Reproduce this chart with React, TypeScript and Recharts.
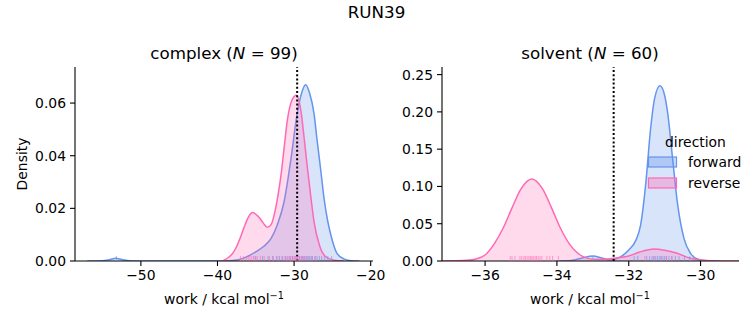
import React from 'react';
import { ComposedChart, Area, Scatter, XAxis, YAxis, ReferenceLine } from 'recharts';

const FONT = "'DejaVu Sans', sans-serif";
const BLUE = '#6495ed';
const PINK = '#ff69b4';

// complex leg: KDE (work, density)
const complexFwdWork = [-57, -55, -54, -53.3, -52.5, -51.5, -50, -40, -38, -36.5, -35, -34, -33, -32.2, -31.3, -30.4, -29.6, -29, -28.5, -28, -27.4, -27, -26.5, -26.1, -25.6, -25.2, -24.4, -23.5, -22.5, -21.5];
const complexFwdDensity = [0, 0.0001, 0.0006, 0.001, 0.0006, 0.0001, 0, 0, 0.0002, 0.0012, 0.0035, 0.0055, 0.0086, 0.0137, 0.0226, 0.039, 0.056, 0.064, 0.067, 0.064, 0.056, 0.046, 0.034, 0.024, 0.015, 0.0099, 0.0029, 0.0008, 0.0001, 0];
const complexRevWork = [-39.5, -39, -38.5, -38, -37.5, -37, -36.5, -36, -35.4, -34.9, -34.5, -34, -33.5, -33, -32.6, -32.1, -31.7, -31.3, -30.9, -30.3, -29.7, -29.1, -28.7, -28.26, -27.8, -27.4, -26.7, -25.9, -24.8, -23.5];
const complexRevDensity = [0, 0.0005, 0.0015, 0.003, 0.0055, 0.009, 0.013, 0.0165, 0.0184, 0.0175, 0.0163, 0.0143, 0.0128, 0.0138, 0.0175, 0.025, 0.0328, 0.043, 0.0531, 0.061, 0.063, 0.0569, 0.047, 0.0353, 0.024, 0.015, 0.0061, 0.0017, 0.0003, 0];

// solvent leg
const solventFwdWork = [-34, -33.6, -33.3, -33.0, -32.75, -32.55, -32.4, -32.22, -32.0, -31.8, -31.67, -31.53, -31.39, -31.28, -31.13, -31.0, -30.92, -30.78, -30.65, -30.46, -30.28, -30.09, -29.8, -29.5];
const solventFwdDensity = [0, 0.0008, 0.004, 0.0067, 0.004, 0.0015, 0.0022, 0.0058, 0.0147, 0.028, 0.048, 0.102, 0.178, 0.218, 0.235, 0.222, 0.2, 0.138, 0.08, 0.03, 0.0103, 0.0027, 0.0003, 0];
const solventRevWork = [-37.2, -36.5, -36.25, -36.0, -35.75, -35.5, -35.25, -35.0, -34.7, -34.4, -34.15, -33.9, -33.65, -33.4, -33.15, -32.9, -32.6, -32.41, -32.2, -32.0, -31.7, -31.3, -31.0, -30.65, -30.28, -30.0, -29.7, -29.3, -28.9];
const solventRevDensity = [0.0001, 0.001, 0.0028, 0.008, 0.0226, 0.0439, 0.0713, 0.0967, 0.11, 0.0967, 0.0713, 0.0439, 0.0226, 0.0097, 0.0035, 0.0022, 0.0027, 0.0036, 0.005, 0.0067, 0.012, 0.0161, 0.0145, 0.0103, 0.0036, 0.0013, 0.0003, 0.0001, 0];

// rug samples
const complexFwdRug = [-53.2, -35.0, -34.1, -33.4, -32.8, -32.3, -31.9, -31.5, -31.1, -30.8, -30.5, -30.2, -29.9, -29.6, -29.3, -29.0, -28.8, -28.6, -28.4, -28.2, -28.0, -27.8, -27.6, -27.3, -27.0, -26.7, -26.4, -26.0, -25.6, -25.1];
const complexRevRug = [-37.0, -36.6, -36.2, -35.9, -35.6, -35.3, -35.1, -34.8, -34.4, -33.9, -33.2, -32.7, -32.1, -31.6, -31.2, -30.9, -30.6, -30.4, -30.2, -30.0, -29.8, -29.7, -29.5, -29.3, -29.1, -28.9, -28.6, -28.2, -27.7, -27.2];
const solventFwdRug = [-33.0, -31.85, -31.75, -31.5, -31.42, -31.35, -31.3, -31.25, -31.2, -31.15, -31.1, -31.05, -31.0, -30.95, -30.88, -30.8, -30.7, -30.6, -30.45, -30.3];
const solventRevRug = [-35.3, -35.25, -35.17, -35.03, -34.98, -34.92, -34.88, -34.83, -34.78, -34.74, -34.7, -34.66, -34.61, -34.57, -34.52, -34.47, -34.42, -34.28, -34.2, -34.12, -33.96, -31.55, -31.3, -31.1, -30.95, -30.8];

const complexXTicks = [-50, -40, -30, -20];
const complexYTicks = [0, 0.02, 0.04, 0.06];
const solventXTicks = [-36, -34, -32, -30];
const solventYTicks = [0, 0.05, 0.1, 0.15, 0.2, 0.25];

const complexMeanLine = -29.6;
const solventMeanLine = -32.42;

function merge(fw: number[], fd: number[], rw: number[], rd: number[]) {
  const map = new Map<number, { x: number; fwd?: number; rev?: number }>();
  fw.forEach((x, i) => {
    const p = map.get(x) ?? { x };
    p.fwd = fd[i];
    map.set(x, p);
  });
  rw.forEach((x, i) => {
    const p = map.get(x) ?? { x };
    p.rev = rd[i];
    map.set(x, p);
  });
  return Array.from(map.values()).sort((a, b) => a.x - b.x);
}

const rug = (xs: number[]) => xs.map((x) => ({ x, y: 0 }));

const fmtX = (v: number) => (v < 0 ? `\u2212${Math.abs(v)}` : `${v}`);
const fmtY = (v: number) => v.toFixed(2);

const tickStyle = { fill: '#000', fontSize: 13.9, fontFamily: FONT };

const rugShape = (color: string) => (props: any) => {
  const { cx, cy } = props;
  return <line x1={cx} x2={cx} y1={cy} y2={cy - 5} stroke={color} strokeOpacity={0.6} strokeWidth={1} />;
};

interface PanelProps {
  left: number;
  width: number;
  margin: { top: number; left: number; right: number; bottom: number };
  xDomain: [number, number];
  yDomain: [number, number];
  xTicks: number[];
  yTicks: number[];
  fw: number[];
  fd: number[];
  rw: number[];
  rd: number[];
  fRug: number[];
  rRug: number[];
  meanLine: number;
}

function Panel(p: PanelProps) {
  const data = merge(p.fw, p.fd, p.rw, p.rd);
  return (
    <div style={{ position: 'absolute', left: p.left, top: 0 }}>
      <ComposedChart width={p.width} height={325} data={data} margin={p.margin}>
        <XAxis
          type="number"
          dataKey="x"
          domain={p.xDomain}
          ticks={p.xTicks}
          allowDataOverflow
          tickFormatter={fmtX}
          height={30}
          tickSize={5}
          tickMargin={4}
          tick={tickStyle}
          axisLine={{ stroke: '#000', strokeWidth: 1.1 }}
          tickLine={{ stroke: '#000', strokeWidth: 1.1 }}
        />
        <YAxis
          type="number"
          domain={p.yDomain}
          ticks={p.yTicks}
          allowDataOverflow
          tickFormatter={fmtY}
          width={50}
          tickSize={5}
          tickMargin={4}
          tick={tickStyle}
          axisLine={{ stroke: '#000', strokeWidth: 1.1 }}
          tickLine={{ stroke: '#000', strokeWidth: 1.1 }}
        />
        <Area
          type="monotone"
          dataKey="fwd"
          connectNulls
          stroke={BLUE}
          strokeWidth={1.5}
          fill={BLUE}
          fillOpacity={0.25}
          isAnimationActive={false}
        />
        <Area
          type="monotone"
          dataKey="rev"
          connectNulls
          stroke={PINK}
          strokeWidth={1.5}
          fill={PINK}
          fillOpacity={0.25}
          isAnimationActive={false}
        />
        <Scatter data={rug(p.fRug)} dataKey="y" shape={rugShape(BLUE)} isAnimationActive={false} />
        <Scatter data={rug(p.rRug)} dataKey="y" shape={rugShape(PINK)} isAnimationActive={false} />
        <ReferenceLine x={p.meanLine} stroke="#000" strokeWidth={2} strokeDasharray="2 2.2" />
      </ComposedChart>
    </div>
  );
}

export default function App() {
  return (
    <div style={{ position: 'absolute', left: 0, top: 0, width: 753, height: 325, background: '#fff', fontFamily: FONT }}>
      <Panel
        left={0}
        width={393}
        margin={{ top: 67, left: 25, right: 20, bottom: 34 }}
        xDomain={[-58.6, -19.7]}
        yDomain={[0, 0.0737]}
        xTicks={complexXTicks}
        yTicks={complexYTicks}
        fw={complexFwdWork}
        fd={complexFwdDensity}
        rw={complexRevWork}
        rd={complexRevDensity}
        fRug={complexFwdRug}
        rRug={complexRevRug}
        meanLine={complexMeanLine}
      />
      <Panel
        left={380}
        width={373}
        margin={{ top: 67, left: 12, right: 14, bottom: 34 }}
        xDomain={[-37.2, -28.93]}
        yDomain={[0, 0.2602]}
        xTicks={solventXTicks}
        yTicks={solventYTicks}
        fw={solventFwdWork}
        fd={solventFwdDensity}
        rw={solventRevWork}
        rd={solventRevDensity}
        fRug={solventFwdRug}
        rRug={solventRevRug}
        meanLine={solventMeanLine}
      />
      <svg width={753} height={325} style={{ position: 'absolute', left: 0, top: 0, pointerEvents: 'none' }} fontFamily={FONT}>
        <text x={376.5} y={18.3} textAnchor="middle" fontSize={16.7} fill="#000">RUN39</text>
        <text x={224} y={59} textAnchor="middle" fontSize={16.7} fill="#000">
          complex (<tspan fontStyle="italic">N</tspan> = 99)
        </text>
        <text x={590} y={59} textAnchor="middle" fontSize={16.7} fill="#000">
          solvent (<tspan fontStyle="italic">N</tspan> = 60)
        </text>
        <text x={224} y={304} textAnchor="middle" fontSize={13.9} fill="#000">
          work / kcal mol<tspan dy={-5} fontSize={9.7}>{'\u2212'}1</tspan>
        </text>
        <text x={590} y={304} textAnchor="middle" fontSize={13.9} fill="#000">
          work / kcal mol<tspan dy={-5} fontSize={9.7}>{'\u2212'}1</tspan>
        </text>
        <text x={0} y={0} transform="translate(26.5 164) rotate(-90)" textAnchor="middle" fontSize={13.9} fill="#000">Density</text>
        <text x={665} y={146.5} fontSize={13.9} fill="#000">direction</text>
        <rect x={648.5} y={157} width={28} height={10} fill={BLUE} fillOpacity={0.35} stroke={BLUE} strokeWidth={1.2} />
        <text x={688} y={166.5} fontSize={13.9} fill="#000">forward</text>
        <rect x={648.5} y={178} width={28} height={10} fill={PINK} fillOpacity={0.35} stroke={PINK} strokeWidth={1.2} />
        <text x={688} y={187.5} fontSize={13.9} fill="#000">reverse</text>
      </svg>
    </div>
  );
}
